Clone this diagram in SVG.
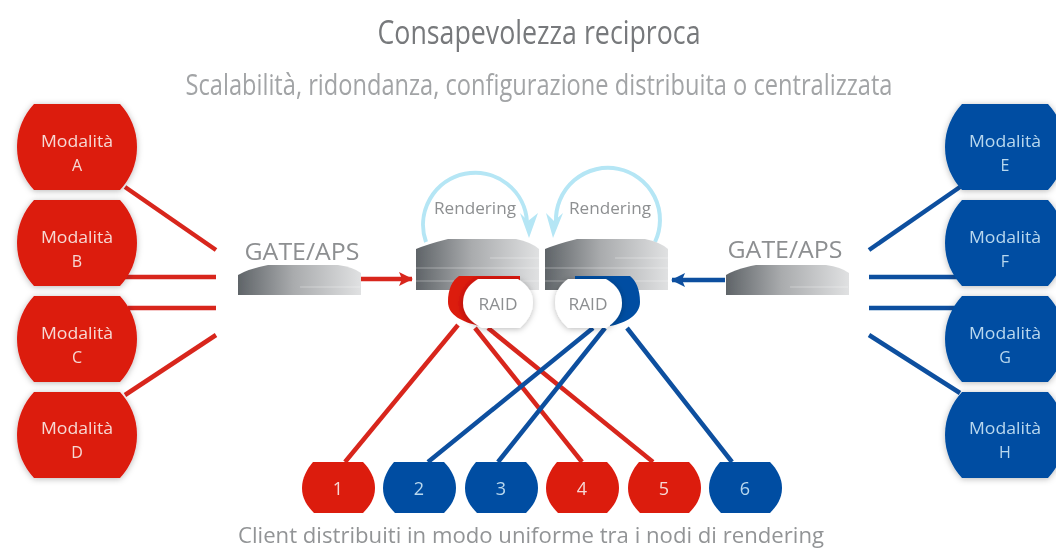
<svg xmlns="http://www.w3.org/2000/svg" xmlns:xlink="http://www.w3.org/1999/xlink" width="1056" height="549" viewBox="0 0 1056 549">
<defs>
<linearGradient id="srv" x1="0" x2="1" y1="0" y2="0"><stop offset="0" stop-color="#5f6468"/><stop offset=".45" stop-color="#a9abad"/><stop offset="1" stop-color="#e0e1e2"/></linearGradient>
<filter id="soft" x="-5%" y="-5%" width="110%" height="110%"><feGaussianBlur stdDeviation="0.7"/></filter>
<filter id="sh" x="-15%" y="-15%" width="130%" height="130%"><feDropShadow dx="0" dy="1" stdDeviation="3" flood-color="#000" flood-opacity=".28"/></filter>
<path id="big" d="M17 0H103C113 11 120 25 120 43C120 61 113 75 103 86H17C7 75 0 61 0 43C0 25 7 11 17 0Z"/>
<path id="small" d="M11 0H61C68 7 73 16 73 26C73 36 68 44 61 51H12C5 44 0 36 0 26C0 16 5 7 11 0Z"/>
<path id="srv3" d="M0 10Q12 5 32 0H100Q115 3 123 10V51H0Z"/>
<path id="srv1" d="M0 10Q10 4 30 0H100Q115 2 123 8V30H0Z"/>
<marker id="ar" markerUnits="userSpaceOnUse" markerWidth="16" markerHeight="14" refX="13" refY="7" orient="auto"><path d="M0 0L14 7L0 14L3 7Z" fill="context-stroke"/></marker>
</defs>
<style>
.r{fill:#dc1a10}.b{fill:#034ea2}
.lr{stroke:#d8261f;stroke-width:4.5;fill:none}.lb{stroke:#0b4f9f;stroke-width:4.5;fill:none}
.t{font-family:"Open Sans","Liberation Sans",sans-serif;text-anchor:middle}
.w{fill:#f6d9d4;font-size:16px}.wb{fill:#b9d8ee;font-size:16px}
.n{font-size:18px}
.g{fill:#8d8f91}
.arc{stroke:#b5e6f5;stroke-width:4;fill:none}
.line{stroke:#fff;stroke-opacity:.35;stroke-width:1}
</style>
<rect width="1056" height="549" fill="#fff"/>
<g filter="url(#soft)">
<g id="titles">
<text class="t" x="539" y="44" font-size="33" fill="#77797b" textLength="323" lengthAdjust="spacingAndGlyphs">Consapevolezza reciproca</text>
<text class="t" x="539" y="95" font-size="29" fill="#a2a4a6" textLength="707" lengthAdjust="spacingAndGlyphs">Scalabilità, ridondanza, configurazione distribuita o centralizzata</text>
<text class="t" x="531" y="543" font-size="22" fill="#929496" textLength="586" lengthAdjust="spacingAndGlyphs">Client distribuiti in modo uniforme tra i nodi di rendering</text>
</g>
<g id="connectors">
<path class="lr" d="M125 187L216 250M125 277H216M128 308H216M125 395L216 335"/>
<path class="lb" d="M960 187L869 250M966 277H869M966 308H869M960 393L869 335"/>
<path class="lr" d="M360 279H412" marker-end="url(#ar)"/>
<path class="lb" d="M725 280H672" marker-end="url(#ar)"/>
</g>
<g id="mod-a"><use href="#big" x="17" y="104" class="r" filter="url(#sh)"/><text class="t w" x="77" y="147" textLength="72" lengthAdjust="spacingAndGlyphs">Modalità</text><text class="t w" x="77" y="171">A</text></g>
<g id="mod-b"><use href="#big" x="17" y="200" class="r" filter="url(#sh)"/><text class="t w" x="77" y="243" textLength="72" lengthAdjust="spacingAndGlyphs">Modalità</text><text class="t w" x="77" y="267">B</text></g>
<g id="mod-c"><use href="#big" x="17" y="296" class="r" filter="url(#sh)"/><text class="t w" x="77" y="339" textLength="72" lengthAdjust="spacingAndGlyphs">Modalità</text><text class="t w" x="77" y="363">C</text></g>
<g id="mod-d"><use href="#big" x="17" y="392" class="r" filter="url(#sh)"/><text class="t w" x="77" y="434" textLength="72" lengthAdjust="spacingAndGlyphs">Modalità</text><text class="t w" x="77" y="458">D</text></g>
<g id="mod-e"><use href="#big" x="945" y="104" class="b" filter="url(#sh)"/><text class="t wb" x="1005" y="147" textLength="72" lengthAdjust="spacingAndGlyphs">Modalità</text><text class="t wb" x="1005" y="171">E</text></g>
<g id="mod-f"><use href="#big" x="945" y="200" class="b" filter="url(#sh)"/><text class="t wb" x="1005" y="243" textLength="72" lengthAdjust="spacingAndGlyphs">Modalità</text><text class="t wb" x="1005" y="267">F</text></g>
<g id="mod-g"><use href="#big" x="945" y="296" class="b" filter="url(#sh)"/><text class="t wb" x="1005" y="339" textLength="72" lengthAdjust="spacingAndGlyphs">Modalità</text><text class="t wb" x="1005" y="363">G</text></g>
<g id="mod-h"><use href="#big" x="945" y="392" class="b" filter="url(#sh)"/><text class="t wb" x="1005" y="434" textLength="72" lengthAdjust="spacingAndGlyphs">Modalità</text><text class="t wb" x="1005" y="458">H</text></g>
<g id="gate-left"><text class="t g" x="302" y="260" font-size="23" textLength="115" lengthAdjust="spacingAndGlyphs">GATE/APS</text><use href="#srv1" x="238" y="265" fill="url(#srv)"/><path class="line" d="M300 287H360"/></g>
<g id="gate-right"><text class="t g" x="785" y="258" font-size="23" textLength="115" lengthAdjust="spacingAndGlyphs">GATE/APS</text><use href="#srv1" x="726" y="265" fill="url(#srv)"/><path class="line" d="M790 287H848"/></g>
<g id="render-left">
<path class="arc" d="M426 242A52 52 0 1 1 527 222"/>
<path d="M529 238L520 213L528 221L538 213Z" fill="#b5e6f5"/>
<use href="#srv3" x="416" y="239" fill="url(#srv)"/>
<path class="line" d="M416 268H540M416 281H540M490 258H540"/>
<text class="t g" x="475" y="214" font-size="16" textLength="82" lengthAdjust="spacingAndGlyphs">Rendering</text>
</g>
<g id="render-right">
<path class="arc" d="M655 242A52 52 0 1 0 556 222"/>
<path d="M553 238L546 213L554 221L563 213Z" fill="#b5e6f5"/>
<use href="#srv3" x="545" y="239" fill="url(#srv)"/>
<path class="line" d="M545 268H669M545 281H669M615 258H669"/>
<text class="t g" x="610" y="214" font-size="16" textLength="82" lengthAdjust="spacingAndGlyphs">Rendering</text>
</g>
<g id="connectors-clients">
<path class="lr" d="M345 462L458 325M582 462L475 328M653 462L488 328"/>
<path class="lb" d="M428 462L593 328M498 462L605 328M732 462L627 328"/>
</g>
<g id="raid-left"><path class="r" d="M459 276H520V300H480V326C462 322 448 315 448 302C448 289 452 281 459 276Z"/><path d="M478 279H518Q533 288 533 303Q533 316 520 328H482Q463 318 463 303Q463 288 478 279Z" fill="#fff" filter="url(#sh)"/><text class="t g" x="498" y="310" font-size="16" textLength="39" lengthAdjust="spacingAndGlyphs">RAID</text></g>
<g id="raid-right"><path class="b" d="M630 276H575V300H610V326C626 323 640 315 640 302C640 289 636 281 630 276Z"/><path d="M568 279H606Q622 288 622 303Q622 318 606 328H568Q555 316 555 303Q555 288 568 279Z" fill="#fff" filter="url(#sh)"/><text class="t g" x="588" y="310" font-size="16" textLength="39" lengthAdjust="spacingAndGlyphs">RAID</text></g>
<g id="c1"><use href="#small" x="302" y="462" class="r"/><text class="t w n" x="338" y="495">1</text></g>
<g id="c2"><use href="#small" x="383" y="462" class="b"/><text class="t wb n" x="419" y="495">2</text></g>
<g id="c3"><use href="#small" x="465" y="462" class="b"/><text class="t wb n" x="501" y="495">3</text></g>
<g id="c4"><use href="#small" x="546" y="462" class="r"/><text class="t w n" x="582" y="495">4</text></g>
<g id="c5"><use href="#small" x="628" y="462" class="r"/><text class="t w n" x="664" y="495">5</text></g>
<g id="c6"><use href="#small" x="709" y="462" class="b"/><text class="t wb n" x="745" y="495">6</text></g>
</g>
</svg>
